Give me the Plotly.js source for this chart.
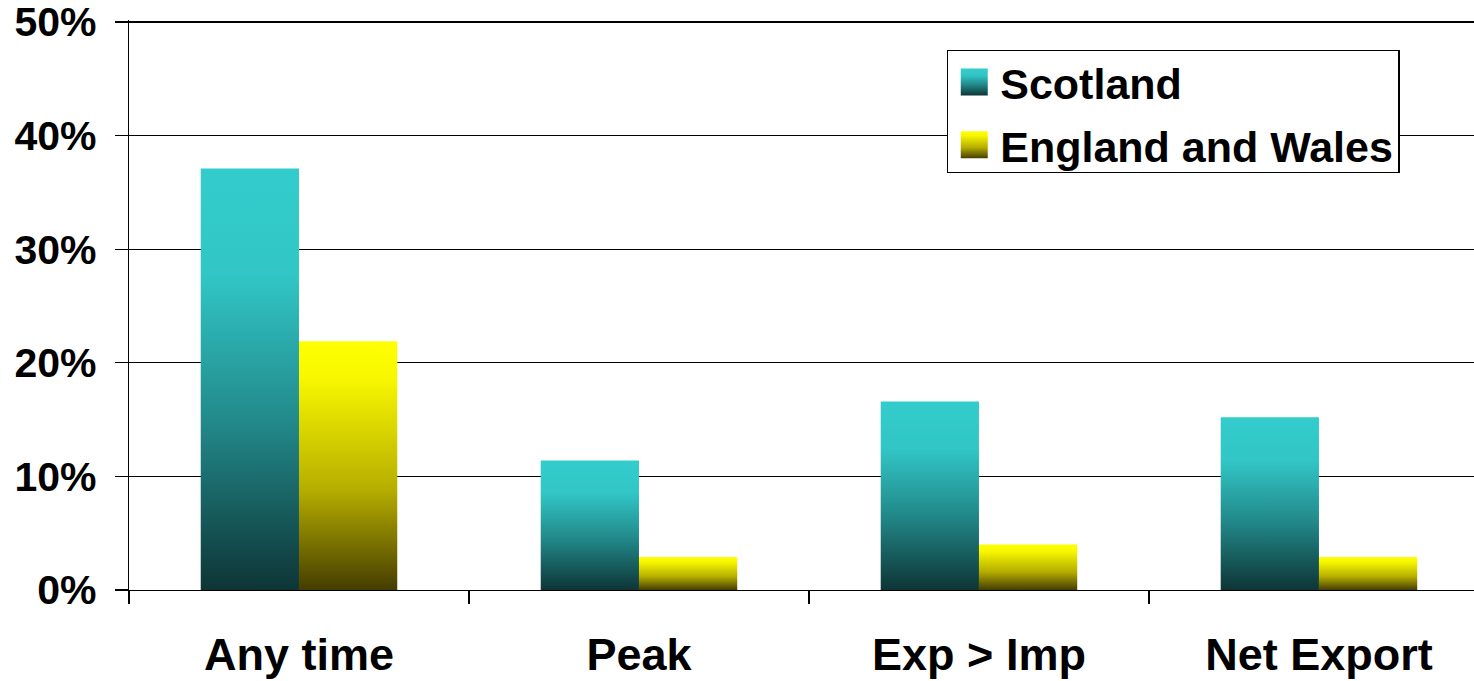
<!DOCTYPE html>
<html>
<head>
<meta charset="utf-8">
<script src="https://cdn.plot.ly/plotly-3.0.1.min.js"></script>
<style>
html,body{margin:0;padding:0;background:#fff;}
#chart{width:1474px;height:681px;}
</style>
</head>
<body>
<div id="chart"></div>
<script>
var categories = ['Any time', 'Peak', 'Exp > Imp', 'Net Export'];
var scotland = [37.1, 11.4, 16.6, 15.2];
var englandWales = [21.9, 2.9, 4.0, 2.9];
var seriesNames = ['Scotland', 'England and Wales'];
var yTicks = [0, 10, 20, 30, 40, 50];

var FONT = '"Liberation Sans", Arial, Helvetica, sans-serif';

var traces = [
  {type: 'bar', name: seriesNames[0], x: categories, y: scotland, legendgroup: 'a',
   marker: {color: '#33CCCC', line: {width: 0}}, hoverinfo: 'none'},
  {type: 'bar', name: seriesNames[1], x: categories, y: englandWales, legendgroup: 'b',
   marker: {color: '#FFFF00', line: {width: 0}}, hoverinfo: 'none'}
];

var layout = {
  width: 1474, height: 681,
  margin: {l: 129, r: 0, t: 20, b: 91},
  paper_bgcolor: '#fff', plot_bgcolor: '#fff',
  barmode: 'group', bargap: 0.422, bargroupgap: 0,
  font: {family: FONT, color: '#000'},
  showlegend: true,
  legend: {
    x: 0.608, y: 0.9544, xanchor: 'left', yanchor: 'top',
    bordercolor: '#000', borderwidth: 1.5, bgcolor: '#fff',
    font: {family: FONT, size: 43, weight: 'bold', color: '#000'},
    itemwidth: 42, traceorder: 'grouped', tracegroupgap: 4,
    itemclick: false, itemdoubleclick: false
  },
  xaxis: {
    type: 'category', range: [-0.5, 3.456], fixedrange: true,
    showline: true, linecolor: '#000', linewidth: 1.3,
    ticks: 'outside', tickson: 'boundaries', ticklen: 13, tickwidth: 1.3, tickcolor: '#000',
    showgrid: false,
    tickfont: {family: FONT, size: 45, weight: 'bold', color: '#000'},
    ticklabelstandoff: 25
  },
  yaxis: {
    range: [0, 50.176], tickvals: yTicks, ticktext: yTicks.map(function(v){return v + '%';}),
    fixedrange: true, ticklabeloverflow: 'allow',
    showline: true, linecolor: '#000', linewidth: 1.3,
    ticks: 'outside', ticklen: 13, tickwidth: 1.3, tickcolor: '#000',
    showgrid: true, gridcolor: '#000', gridwidth: 1.3,
    zeroline: false,
    tickfont: {family: FONT, size: 41, weight: 'bold', color: '#000'},
    ticklabelstandoff: 10
  }
};

function addGradients(gd) {
  var svg = gd.querySelector('.main-svg');
  var defs = svg.querySelector('defs');
  var ns = 'http://www.w3.org/2000/svg';
  function grad(id, stops) {
    var g = document.createElementNS(ns, 'linearGradient');
    g.setAttribute('id', id);
    g.setAttribute('x1', '0'); g.setAttribute('y1', '0');
    g.setAttribute('x2', '0'); g.setAttribute('y2', '1');
    stops.forEach(function(s) {
      var st = document.createElementNS(ns, 'stop');
      st.setAttribute('offset', s[0]);
      st.setAttribute('stop-color', s[1]);
      g.appendChild(st);
    });
    defs.appendChild(g);
  }
  grad('gradScot', [[0, '#33CCCC'], [0.25, '#32C6C6'], [0.6, '#22898A'], [1, '#0E3536']]);
  grad('gradEng', [[0, '#FFFF00'], [0.15, '#F8F700'], [0.6, '#B5AD00'], [1, '#453D00']]);
  var ids = ['gradScot', 'gradEng'];
  var bars = gd.querySelectorAll('.barlayer .trace');
  bars.forEach(function(t, i) {
    t.querySelectorAll('path').forEach(function(p) {
      p.style.fill = 'url(#' + ids[i] + ')';
    });
  });
  var legs = gd.querySelectorAll('.legend .traces');
  legs.forEach(function(t, i) {
    t.querySelectorAll('.legendpoints path').forEach(function(p) {
      p.setAttribute('d', 'M13.5,13.5H-13.5V-13.5H13.5Z');
      p.style.fill = 'url(#' + ids[i] + ')';
      p.style.stroke = 'none';
    });
  });
  // tighten legend frame to match the reference box
  var bg = gd.querySelector('.legend rect.bg');
  if (bg) {
    var y0 = parseFloat(bg.getAttribute('y')) || 0;
    bg.setAttribute('y', y0 + 4);
    bg.setAttribute('height', 122);
  }
}

Plotly.newPlot('chart', traces, layout, {displayModeBar: false, staticPlot: true}).then(function(gd) {
  addGradients(gd);
});
</script>
</body>
</html>
